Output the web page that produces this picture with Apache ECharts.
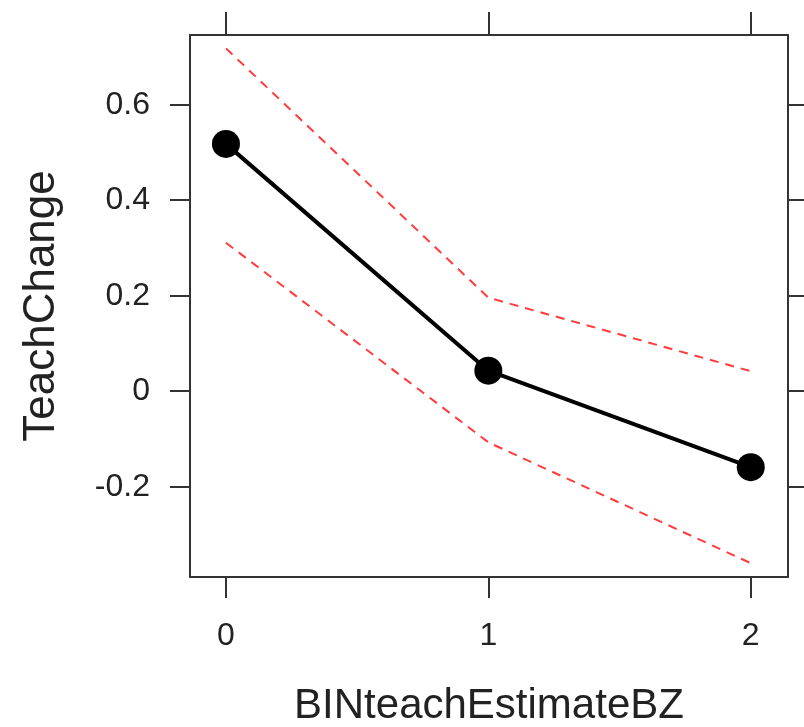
<!DOCTYPE html>
<html>
<head>
<meta charset="utf-8">
<script src="https://cdn.jsdelivr.net/npm/echarts@6/dist/echarts.min.js"></script>
<style>
	html, body { margin: 0; padding: 0; background: #fff; }
	#main { width: 804px; height: 727px; }
</style>
</head>
<body>
<div id="main"></div>
<script>
// data
var xValues = [0, 1, 2];
var fitValues = [0.518, 0.043, -0.159];
var upperValues = [0.718, 0.196, 0.042];
var lowerValues = [0.311, -0.107, -0.36];
var xTicks = [0, 1, 2];
var yTicks = [-0.2, 0, 0.2, 0.4, 0.6];

function pairs(ys) {
	return xValues.map(function (x, i) { return [x, ys[i]]; });
}

var myChart = echarts.init(document.getElementById('main'));

var textFont = 'Liberation Sans, Arial, sans-serif';
var boxLine = { show: true, onZero: false, lineStyle: { color: '#333', width: 2 } };
var tickStyle = { color: '#333', width: 2 };

option = {
	animation: false,
	backgroundColor: '#fff',
	grid: { left: 190, right: 16, top: 35, bottom: 150, containLabel: false, outerBoundsMode: 'none' },
	xAxis: [{
		type: 'value',
		position: 'bottom',
		min: -0.137,
		max: 2.142,
		name: 'BINteachEstimateBZ',
		nameLocation: 'middle',
		nameGap: 108,
		nameTextStyle: { fontSize: 42, color: '#222', fontFamily: textFont },
		axisLine: boxLine,
		axisTick: { show: true, inside: false, length: 21, customValues: xTicks, lineStyle: tickStyle },
		axisLabel: { customValues: xTicks, fontSize: 32, color: '#222', fontFamily: textFont, margin: 43 },
		splitLine: { show: false }
	}, {
		type: 'value',
		position: 'top',
		min: -0.137,
		max: 2.142,
		axisLine: boxLine,
		axisTick: { show: true, inside: false, length: 23, customValues: xTicks, lineStyle: tickStyle },
		axisLabel: { show: false },
		splitLine: { show: false }
	}],
	yAxis: [{
		type: 'value',
		position: 'left',
		min: -0.389,
		max: 0.746,
		name: 'TeachChange',
		nameLocation: 'middle',
		nameGap: 126,
		nameTextStyle: { fontSize: 44, color: '#222', fontFamily: textFont },
		axisLine: boxLine,
		axisTick: { show: true, inside: false, length: 20, customValues: yTicks, lineStyle: tickStyle },
		axisLabel: { customValues: yTicks, fontSize: 32, color: '#222', fontFamily: textFont, margin: 40 },
		splitLine: { show: false }
	}, {
		type: 'value',
		position: 'right',
		min: -0.389,
		max: 0.746,
		axisLine: boxLine,
		axisTick: { show: true, inside: false, length: 20, customValues: yTicks, lineStyle: tickStyle },
		axisLabel: { show: false },
		splitLine: { show: false }
	}],
	series: [{
		name: 'upper',
		type: 'line',
		data: pairs(upperValues),
		symbol: 'none',
		lineStyle: { color: '#ff3b3b', width: 2, type: [9, 7] },
		z: 2
	}, {
		name: 'lower',
		type: 'line',
		data: pairs(lowerValues),
		symbol: 'none',
		lineStyle: { color: '#ff3b3b', width: 2, type: [9, 7] },
		z: 2
	}, {
		name: 'fit',
		type: 'line',
		data: pairs(fitValues),
		symbol: 'circle',
		symbolSize: 28,
		itemStyle: { color: '#000' },
		lineStyle: { color: '#000', width: 4 },
		z: 3
	}]
};

myChart.setOption(option);
</script>
</body>
</html>
